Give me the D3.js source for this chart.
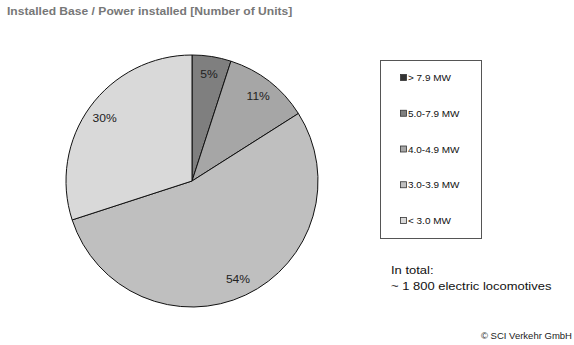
<!DOCTYPE html>
<html>
<head>
<meta charset="utf-8">
<script src="https://cdn.jsdelivr.net/npm/d3@7"></script>
<style>
  html, body { margin: 0; padding: 0; background: #fff; }
  svg { display: block; font-family: "Liberation Sans", Arial, Helvetica, sans-serif; }
</style>
</head>
<body>
<svg id="chart" width="574" height="345"></svg>
<script>
// Power classes of the installed locomotive fleet (share of units, %)
const categories = ["> 7.9 MW", "5.0-7.9 MW", "4.0-4.9 MW", "3.0-3.9 MW", "< 3.0 MW"];
const shares = [0, 5, 11, 54, 30];
const colors = ["#333333", "#7f7f7f", "#a6a6a6", "#bfbfbf", "#d9d9d9"];

const titleText = "Installed Base / Power installed [Number of Units]";
const totalLines = ["In total:", "~ 1 800 electric locomotives"];
const sourceText = "© SCI Verkehr GmbH";

const svg = d3.select("#chart");
const stretch = 1.12; // slightly wide lettering

function stretchedText(sel, x, y, anchor) {
  return sel.attr("text-anchor", anchor || "start")
    .attr("transform", `translate(${x},${y}) scale(${stretch},1)`);
}

// Title
stretchedText(svg.append("text"), 7, 15)
  .attr("font-size", 10.8).attr("font-weight", "bold").attr("fill", "#777")
  .text(titleText);

// Pie
const cx = 192, cy = 181, r = 126;
const data = categories.map((c, i) => ({ cat: c, value: shares[i], color: colors[i] }));
const pie = d3.pie().value(d => d.value).sort(null);
const arcs = pie(data);
const arc = d3.arc().innerRadius(0).outerRadius(r);
const labelArc = d3.arc().innerRadius(108).outerRadius(108);

const g = svg.append("g").attr("transform", `translate(${cx},${cy})`);
g.selectAll("path.slice")
  .data(arcs.filter(a => a.data.value > 0))
  .join("path")
  .attr("class", "slice")
  .attr("d", arc)
  .attr("fill", d => d.data.color)
  .attr("stroke", "#111")
  .attr("stroke-width", 1);

g.selectAll("text.pct")
  .data(arcs.filter(a => a.data.value > 0))
  .join("text")
  .attr("class", "pct")
  .each(function(d) {
    const [x, y] = labelArc.centroid(d);
    stretchedText(d3.select(this), x, y + 4, "middle");
  })
  .attr("font-size", 10.8)
  .attr("fill", "#222")
  .text(d => d.data.value + "%");

// Legend
const lg = svg.append("g");
lg.append("rect")
  .attr("x", 380.5).attr("y", 60.5).attr("width", 101).attr("height", 178)
  .attr("fill", "#fff").attr("stroke", "#555").attr("stroke-width", 1);

const legendY = d3.scalePoint().domain(categories).range([81, 224]);
const items = lg.selectAll("g.item").data(data).join("g").attr("class", "item");
items.append("rect")
  .attr("x", 400.5).attr("y", d => legendY(d.cat) - 6.5)
  .attr("width", 6).attr("height", 6)
  .attr("fill", d => d.color).attr("stroke", "#333").attr("stroke-width", 0.8);
items.append("text")
  .each(function(d) { stretchedText(d3.select(this), 408, legendY(d.cat)); })
  .attr("font-size", 8.9).attr("fill", "#111")
  .text(d => d.cat);

// Fleet total note
svg.selectAll("text.total").data(totalLines).join("text")
  .attr("class", "total")
  .each(function(d, i) { stretchedText(d3.select(this), 391, 274 + i * 16); })
  .attr("font-size", 11.6).attr("fill", "#111")
  .text(d => d);

// Source
stretchedText(svg.append("text"), 572, 339, "end")
  .attr("font-size", 8.5).attr("fill", "#222")
  .text(sourceText);
</script>
</body>
</html>
